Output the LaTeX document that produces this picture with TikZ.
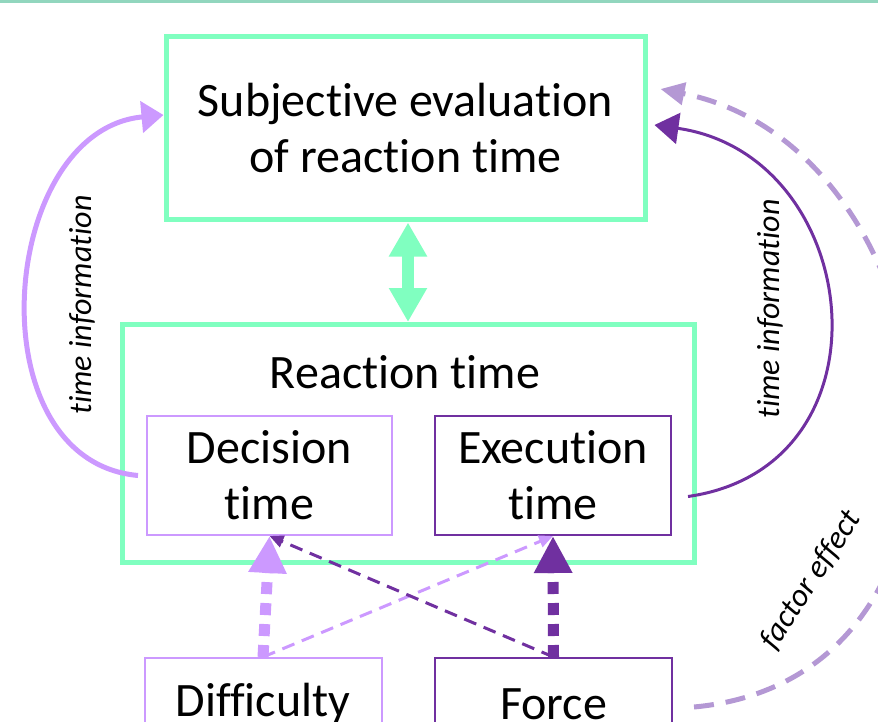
\documentclass[tikz,border=0pt]{standalone}
\usepackage{fontspec}
\setmainfont{Carlito}[Ligatures=CommonOff]
\usepackage{tikz}
\usetikzlibrary{arrows.meta}
\usetikzlibrary{positioning}
\definecolor{colAqua}{RGB}{128,255,192}
\definecolor{colStripe}{RGB}{146,214,190}
\definecolor{colLight}{RGB}{204,153,255}
\definecolor{colDark}{RGB}{112,48,160}
\definecolor{colFaded}{RGB}{180,152,212}

\begin{document}
\begin{tikzpicture}[x=1pt, y=1pt, line join=miter,
    bigbox/.style={draw=colAqua, line width=5pt, align=center, inner sep=0pt},
    lightbox/.style={draw=colLight, line width=2pt, align=center, inner sep=0pt},
    darkbox/.style={draw=colDark, line width=2pt, align=center, inner sep=0pt},
    infolabel/.style={font=\fontsize{32}{34}\selectfont\itshape, inner sep=0pt},
    dotlight/.style={draw=colLight, line width=11pt, dash pattern=on 12pt off 9pt, -{Triangle[length=37pt, width=36pt, fill=colLight]}},
    dotdark/.style={draw=colDark, line width=11pt, dash pattern=on 12pt off 9pt, -{Triangle[length=37pt, width=36pt, fill=colDark]}},
    dashlight/.style={draw=colLight, line width=3pt, dash pattern=on 13pt off 8pt, -{Triangle[length=14pt, width=12pt]}},
    dashdark/.style={draw=colDark, line width=3pt, dash pattern=on 13pt off 8pt, -{Triangle[length=14pt, width=12pt]}},
  ]
  \useasboundingbox (0,0) rectangle (878,-722);
  \fill[colStripe] (0,0) rectangle (878,-3.5);
  \fontsize{48}{56}\selectfont
  %--- Nœuds
    \node[bigbox, minimum width=479pt, minimum height=183pt] (SE) at (405.5,-128.5) {Subjective evaluation\\of reaction time};
    \node[bigbox, minimum width=572pt, minimum height=238pt] (RT) at (408,-443.5) {};
    \node (RTtitle) at (405,-372) {Reaction time};
    \node[lightbox, minimum width=245pt, minimum height=119pt] (DT) at (269.5,-475.5) {Decision\\time};
    \node[darkbox, minimum width=236pt, minimum height=119pt] (ET) at (553,-475.5) {Execution\\time};
    \node[lightbox, minimum width=237pt, minimum height=92pt] (DI) at (263,-704) {Difficulty};
    \node[darkbox, minimum width=237pt, minimum height=92pt] (FO) at (553.5,-704) {Force};
  %--- Étiquettes
    \node[infolabel, rotate=90] (TIleft) at (82,-305) {time information};
    \node[infolabel, rotate=90] (TIright) at (770,-309) {time information};
    \node[infolabel, rotate=57] (FE) at (811,-580) {factor effect};
  %--- Flèches
    \draw[colAqua, line width=12pt, {Triangle[length=34pt, width=36pt]}-{Triangle[length=34pt, width=36pt]}] (RT.north |- SE.south) -- (RT.north);
    \draw[dotlight] (DI.north) -- (DT.south);
    \draw[dotdark] (FO.north) -- (ET.south);
    \draw[dashlight] (DI.north) -- (ET.south);
    \draw[dashdark] (FO.north) -- (DT.south);
    \draw[colLight, line width=5pt, -{Triangle[length=22pt, width=31pt]}] ([xshift=-8pt]DT.west) .. controls +(-165,15) and +(-165,-15) .. ([yshift=13.5pt]SE.west);
    \draw[colDark, line width=3pt, -{Triangle[length=24pt, width=31pt]}] ([shift={(16pt,-21pt)}]ET.east) .. controls +(210,30) and +(210,-30) .. ([shift={(7pt,3.5pt)}]SE.east);
    \draw[colFaded, line width=5pt, dash pattern=on 20pt off 12pt, -{Triangle[length=24pt, width=22pt]}] ([shift={(21pt,-3pt)}]FO.east) .. controls +(325,30) and +(300,-60) .. ([shift={(13pt,39.5pt)}]SE.east);
  %---
\end{tikzpicture}
\end{document}
